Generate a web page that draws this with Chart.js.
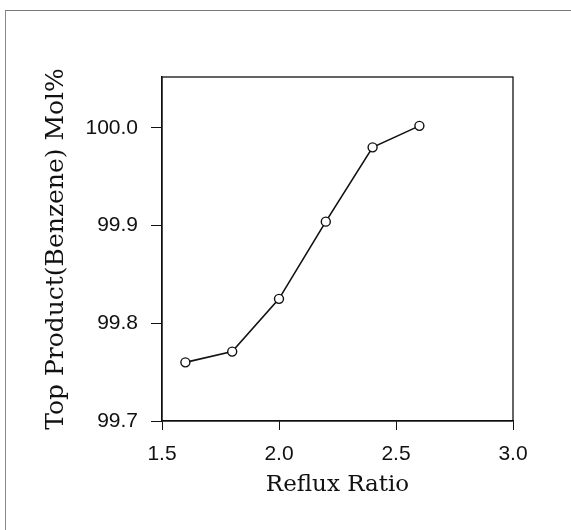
<!DOCTYPE html>
<html>
<head>
<meta charset="utf-8">
<script src="https://cdn.jsdelivr.net/npm/chart.js@4/dist/chart.umd.min.js"></script>
<style>
  body { margin: 0; background: #fff; }
  #wrap { position: relative; width: 571px; height: 530px; }
  #frame {
    position: absolute; left: 5px; top: 10px; right: 0; bottom: 0;
    border-top: 1px solid #777; border-left: 1px solid #888;
  }
  canvas { position: absolute; left: 0; top: 0; }
</style>
</head>
<body>
<div id="wrap">
  <div id="frame"></div>
  <canvas id="refluxChart" width="571" height="530"></canvas>
</div>
<script>
// values
const refluxRatio = [1.6, 1.8, 2.0, 2.2, 2.4, 2.6];
const benzenePct = [99.76, 99.771, 99.825, 99.904, 99.98, 100.002];
const xTickValues = [1.5, 2.0, 2.5, 3.0];
const yTickValues = [99.7, 99.8, 99.9, 100.0];

const ink = "#111";
const tickFont = { family: "'Liberation Sans', Arial, sans-serif", size: 21 };
const titleFont = { family: "'DejaVu Serif', 'Liberation Serif', serif" };

// box around the plot area
const boxPlugin = {
  id: "box",
  afterDraw(chart) {
    const { ctx, chartArea: a } = chart;
    ctx.save();
    ctx.strokeStyle = ink;
    ctx.lineWidth = 1.3;
    ctx.strokeRect(a.left, a.top, a.right - a.left, a.bottom - a.top);
    ctx.restore();
  },
};

const ctx = document.getElementById("refluxChart").getContext("2d");

new Chart(ctx, {
  type: "line",
  data: {
    datasets: [
      {
        data: refluxRatio.map((x, i) => ({ x: x, y: benzenePct[i] })),
        borderColor: ink,
        borderWidth: 1.6,
        pointRadius: 4.5,
        pointBorderWidth: 1.4,
        pointBorderColor: ink,
        pointBackgroundColor: "#fff",
        fill: false,
        tension: 0,
      },
    ],
  },
  options: {
    responsive: false,
    animation: false,
    layout: { padding: { top: 77, right: 58, left: 0, bottom: 0 } },
    plugins: {
      legend: { display: false },
      tooltip: { enabled: false },
    },
    scales: {
      x: {
        type: "linear",
        min: 1.5,
        max: 3.0,
        afterBuildTicks: (axis) => {
          axis.ticks = xTickValues.map((v) => ({ value: v }));
        },
        afterFit: (axis) => {
          axis.height = 109;
        },
        ticks: {
          color: ink,
          font: tickFont,
          padding: 12,
          maxRotation: 0,
          callback: (v) => v.toFixed(1),
        },
        grid: {
          display: true,
          drawOnChartArea: false,
          drawTicks: true,
          tickLength: 9,
          color: ink,
        },
        border: { display: true, color: ink, width: 1.3 },
        title: {
          display: true,
          text: "Reflux Ratio",
          color: ink,
          font: { ...titleFont, size: 23 },
          padding: 31,
        },
      },
      y: {
        type: "linear",
        min: 99.7,
        max: 100.052,
        afterBuildTicks: (axis) => {
          axis.ticks = yTickValues.map((v) => ({ value: v }));
        },
        afterFit: (axis) => {
          axis.width = 162;
        },
        ticks: {
          color: ink,
          font: tickFont,
          padding: 13,
          callback: (v) => v.toFixed(1),
        },
        grid: {
          display: true,
          drawOnChartArea: false,
          drawTicks: true,
          tickLength: 11,
          color: ink,
        },
        border: { display: true, color: ink, width: 1.3 },
        title: {
          display: true,
          text: "Top Product(Benzene) Mol%",
          color: ink,
          font: { ...titleFont, size: 25 },
          padding: 41,
        },
      },
    },
  },
  plugins: [boxPlugin],
});
</script>
</body>
</html>
